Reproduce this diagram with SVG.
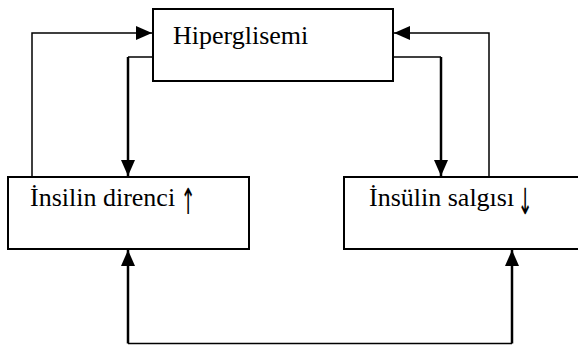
<svg xmlns="http://www.w3.org/2000/svg" width="578" height="345" viewBox="0 0 578 345">
<style>
.box{fill:#fff;stroke:#000;stroke-width:2}
.lbl{font-family:'Liberation Serif','Times New Roman',serif;font-size:26px;fill:#000}
.arr{font-family:'DejaVu Sans',sans-serif;font-size:24px;font-weight:400;fill:#000;text-anchor:middle}
.thin{fill:none;stroke:#000;stroke-width:1.5}
.thick{fill:none;stroke:#000;stroke-width:2.5}
</style>
<defs>
<marker id="ah" markerUnits="userSpaceOnUse" markerWidth="16" markerHeight="14" refX="16" refY="7" orient="auto">
<path d="M0,0 L16,7 L0,14 z" fill="#000"/>
</marker>
</defs>
<rect width="578" height="345" fill="#fff"/>
<g id="connectors">
<path class="thin" d="M32,177 V33 H152" marker-end="url(#ah)"/>
<path class="thin" d="M153,57 H128"/>
<path class="thick" d="M128,57 V176" marker-end="url(#ah)"/>
<path class="thin" d="M393,57 H441"/>
<path class="thick" d="M441,57 V176" marker-end="url(#ah)"/>
<path class="thin" d="M489,177 V33 H394" marker-end="url(#ah)"/>
<path class="thin" d="M128,343.5 H512"/>
<path class="thick" d="M128,343.5 V250" marker-end="url(#ah)"/>
<path class="thick" d="M512,343.5 V250" marker-end="url(#ah)"/>
</g>
<g id="hiperglisemi">
<rect class="box" x="153" y="9" width="240" height="72"/>
<text class="lbl" x="173" y="44">Hiperglisemi</text>
</g>
<g id="insulin-direnci">
<rect class="box" x="8" y="177" width="241" height="72"/>
<text class="lbl" x="30" y="206">İnsilin direnci</text>
<text class="arr" transform="translate(188,214) scale(0.75,1.5)">↑</text>
</g>
<g id="insulin-salgisi">
<rect class="box" x="344" y="177" width="250" height="72"/>
<text class="lbl" x="369" y="206">İnsülin salgısı</text>
<text class="arr" transform="translate(525,214) scale(0.75,1.5)">↓</text>
</g>
</svg>
